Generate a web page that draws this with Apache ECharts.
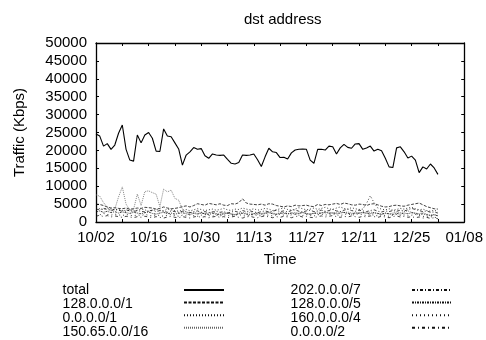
<!DOCTYPE html>
<html>
<head>
<meta charset="utf-8">
<style>
  html, body { margin: 0; padding: 0; background: #fff; }
  #chart { width: 486px; height: 340px; }
</style>
<script src="https://cdn.jsdelivr.net/npm/echarts@6/dist/echarts.min.js"></script>
</head>
<body>
<div id="chart"></div>
<script>
// Daily destination-address traffic (Kbps), one value per day starting 10/02.
var tickLabels = ['10/02', '10/16', '10/30', '11/13', '11/27', '12/11', '12/25', '01/08'];

var total = [
  24600, 24000, 21200, 21900, 20300, 21500, 24800, 27100, 20300, 17300,
  17000, 24300, 22100, 24300, 25000, 23400, 19800, 19700, 26000, 24000,
  23800, 22100, 20400, 15900, 18700, 19600, 20800, 20300, 20500, 18500,
  17800, 19000, 18700, 18600, 18700, 17500, 16400, 16200, 16600, 18700,
  18600, 18700, 19000, 17400, 15500, 18200, 20600, 19600, 19400, 18000,
  18100, 17600, 19300, 20100, 20300, 20400, 20300, 17300, 16400, 20300,
  20300, 20100, 21200, 21000, 19000, 20700, 21700, 20850, 20600, 21800,
  21900, 20300, 20700, 21200, 19800, 20300, 19900, 17800, 15400, 15200,
  20700, 21000, 19600, 17900, 18400, 17300, 13800, 15400, 14800, 16200,
  15100, 13300
];
var net128_1 = [
  5000, 4900, 4600, 4200, 3900, 4000, 3800, 3700, 3900, 3600,
  3700, 3900, 3800, 4100, 4000, 3900, 3600, 3800, 4200, 3900,
  3700, 3800, 4000, 4300, 4500, 4200, 4600, 5100, 4900, 4700,
  5200, 5000, 4800, 5100, 4700, 4600, 5100, 5000, 5400, 6500,
  5300, 5000, 4900, 4800, 5000, 4700, 5100, 5000, 4600, 4400,
  4200, 4500, 4300, 4700, 4500, 4600, 4700, 4400, 4300, 4900,
  4600, 4900, 4800, 5000, 5200, 4900, 5300, 5100, 4800, 4700,
  5000, 4900, 4600, 5000, 5100, 4800, 4400, 4200, 4300, 4600,
  4700, 4500, 4400, 4700, 4900, 5100, 5300, 4800, 4300, 4000,
  3700, 3600
];
var net0_1 = [
  4000, 3700, 3500, 3900, 3600, 3300, 3500, 3200, 3000, 3400,
  3100, 3300, 3600, 3400, 3000, 3200, 3500, 3300, 3100, 3600,
  3400, 3200, 3000, 3300, 3500, 3100, 3400, 3700, 3500, 3200,
  3400, 3600, 3300, 3500, 3800, 3400, 3200, 3600, 3500, 3900,
  3600, 3400, 3700, 3300, 3500, 3800, 3600, 3200, 3400, 3700,
  3900, 3500, 3300, 3600, 4000, 3700, 3400, 3600, 3900, 3500,
  3800, 4100, 3700, 3500, 3900, 4200, 3800, 3600, 4000, 3700,
  3500, 3600, 5200, 7300, 5400, 3900, 3600, 3400, 3700, 3300,
  3500, 3800, 3600, 3900, 4100, 3700, 3400, 3600, 3200, 3000,
  3300, 2900
];
var net150_65 = [
  7600, 7200, 5400, 4200, 3000, 3600, 7000, 9800, 5000, 3300,
  3500, 7800, 4600, 8500, 8700, 8200, 7800, 4300, 9200, 8400,
  8900, 6600, 6100, 3600, 2800, 2500, 2700, 2400, 2600, 2300,
  2500, 2800, 2400, 2200, 2600, 2400, 2300, 2100, 2500, 2700,
  2400, 2600, 2300, 2100, 2400, 2600, 2800, 2500, 2300, 2600,
  2400, 2200, 2500, 2700, 2400, 2600, 2300, 2100, 2400, 2800,
  2600, 2500, 2800, 2400, 2700, 2900, 2600, 2800, 2500, 2300,
  2700, 2500, 2400, 2800, 2600, 2300, 2100, 2400, 2200, 2500,
  2800, 2600, 2900, 3100, 2700, 2500, 2300, 2600, 2200, 1900,
  2100, 1800
];
var net202_7 = [
  3600, 3400, 3800, 3500, 3200, 3600, 3300, 3000, 3400, 3100,
  2900, 3200, 3000, 2800, 3100, 3300, 2900, 3200, 3000, 2700,
  3100, 2900, 2700, 3000, 2800, 2600, 2900, 3100, 2700, 2900,
  2600, 2800, 3000, 2700, 2900, 2500, 2800, 3000, 2700, 3200,
  2900, 3100, 2800, 2600, 2900, 3100, 2800, 3000, 3300, 2900,
  3100, 2800, 3200, 3400, 3000, 2800, 3100, 3300, 2900, 3100,
  3300, 3000, 3200, 3500, 3100, 2900, 3300, 3600, 3200, 3000,
  3300, 3100, 2900, 3200, 3400, 3000, 2800, 3100, 2900, 3200,
  3000, 3300, 3100, 3400, 3800, 3500, 3200, 2900, 3100, 2700,
  2800, 2500
];
var net128_5 = [
  2800, 3100, 2700, 3000, 2600, 2900, 2500, 2800, 2600, 2400,
  2700, 2500, 2300, 2600, 2800, 2400, 2200, 2500, 2700, 2300,
  2500, 2200, 2400, 2600, 2300, 2100, 2400, 2200, 2500, 2300,
  2100, 2400, 2200, 2000, 2300, 2500, 2200, 2000, 2300, 2400,
  2200, 2000, 2300, 2500, 2200, 2400, 2600, 2300, 2100, 2400,
  2600, 2300, 2500, 2200, 2400, 2700, 2400, 2200, 2500, 2300,
  2500, 2800, 2400, 2600, 2300, 2500, 2700, 2400, 2200, 2600,
  2400, 2700, 2500, 2300, 2600, 2400, 2200, 2500, 2300, 2100,
  2400, 2200, 2500, 2300, 2600, 2400, 2100, 2300, 2000, 1800,
  2000, 1700
];
var net160_4 = [
  2300, 2000, 2400, 2100, 1900, 2200, 2000, 1800, 2100, 1900,
  1700, 2000, 1800, 2100, 1900, 1700, 2000, 1800, 1600, 1900,
  2100, 1800, 1600, 1900, 1700, 2000, 1800, 1600, 1900, 2100,
  1800, 1600, 1900, 1700, 2000, 1800, 1700, 1900, 2100, 1800,
  1600, 1900, 2100, 1800, 1700, 2000, 1900, 1700, 2000, 2200,
  1900, 1700, 2000, 2200, 1900, 1800, 2100, 1900, 1700, 2000,
  2200, 1900, 2100, 2300, 2000, 1800, 2100, 2300, 1900, 2100,
  2300, 2000, 1800, 2100, 1900, 1700, 2000, 1800, 1600, 1900,
  2100, 1800, 2000, 1700, 1900, 2100, 1800, 1600, 1400, 1500,
  1300, 1200
];
var net0_2 = [
  1600, 1900, 1500, 1800, 1400, 1700, 1500, 1300, 1600, 1400,
  1200, 1500, 1300, 1600, 1400, 1200, 1500, 1300, 1100, 1400,
  1600, 1300, 1200, 1500, 1300, 1100, 1400, 1600, 1300, 1500,
  1200, 1400, 1600, 1300, 1500, 1200, 1400, 1600, 1300, 1100,
  1400, 1600, 1300, 1200, 1500, 1700, 1400, 1200, 1500, 1300,
  1600, 1400, 1200, 1500, 1700, 1400, 1600, 1300, 1200, 1500,
  1700, 1400, 1600, 1800, 1500, 1300, 1600, 1400, 1700, 1500,
  1300, 1600, 1400, 1700, 1500, 1300, 1600, 1400, 1200, 1500,
  1700, 1400, 1600, 1300, 1500, 1200, 1400, 1100, 1300, 1000,
  1200, 900
];

var FONT = '"Liberation Sans", Arial, Helvetica, sans-serif';

// name, values, dash pattern, colour, width
var lines = [
  ['total',         total,     'solid',      '#000', 1.1],
  ['128.0.0.0/1',   net128_1,  [3, 1.5],     '#111', 0.8],
  ['0.0.0.0/1',     net0_1,    [1, 2],       '#111', 0.8],
  ['150.65.0.0/16', net150_65, [1, 1],       '#666', 0.8],
  ['202.0.0.0/7',   net202_7,  [3, 2, 1, 2], '#111', 0.8],
  ['128.0.0.0/5',   net128_5,  [2, 1, 1, 1], '#111', 0.8],
  ['160.0.0.0/4',   net160_4,  [1, 3],       '#111', 0.8],
  ['0.0.0.0/2',     net0_2,    [3, 3, 1, 3], '#111', 0.8]
];

function toPoints(values) {
  return values.map(function (v, i) { return [i, v]; });
}

var series = lines.map(function (l) {
  return {
    name: l[0],
    type: 'line',
    data: toPoints(l[1]),
    symbol: 'none',
    showSymbol: false,
    color: l[3],
    lineStyle: { color: l[3], width: l[4], type: l[2] },
    silent: true,
    z: l[0] === 'total' ? 3 : 2
  };
});

var axisLine = { show: true, onZero: false, lineStyle: { color: '#000', width: 1.3 } };
var axisTick = { show: true, inside: true, length: 3, lineStyle: { color: '#000', width: 1 } };

function xLabel(v) {
  return v % 14 === 0 ? tickLabels[v / 14] : '';
}
function yLabel(v) {
  return String(v);
}

function legendText(names, left) {
  return {
    data: names, orient: 'vertical', left: left, top: 283, padding: 0,
    itemWidth: 0, itemHeight: 14, itemGap: 0, selectedMode: false,
    itemStyle: { opacity: 0 }, lineStyle: { opacity: 0 },
    textStyle: { fontSize: 14, fontFamily: FONT, color: '#000' }
  };
}
function legendSample(names, left) {
  return {
    data: names, orient: 'vertical', left: left, top: 283, padding: 0,
    itemWidth: 40, itemHeight: 14, itemGap: 0, selectedMode: false,
    itemStyle: { opacity: 0 },
    formatter: function () { return ''; },
    textStyle: { fontSize: 14, fontFamily: FONT }
  };
}

var col1 = ['total', '128.0.0.0/1', '0.0.0.0/1', '150.65.0.0/16'];
var col2 = ['202.0.0.0/7', '128.0.0.0/5', '160.0.0.0/4', '0.0.0.0/2'];

var chart = echarts.init(document.getElementById('chart'), null, { renderer: 'canvas' });
chart.setOption({
  animation: false,
  backgroundColor: '#fff',
  title: {
    text: 'dst address', left: 244, top: 12, padding: 0,
    textStyle: { fontSize: 15, fontWeight: 'normal', fontFamily: FONT, color: '#000' }
  },
  legend: [
    legendText(col1, 52), legendSample(col1, 183),
    legendText(col2, 280), legendSample(col2, 411)
  ],
  grid: { left: 96, right: 18, top: 43, bottom: 118, containLabel: false },
  xAxis: [
    {
      type: 'value', min: 0, max: 98, interval: 7, position: 'bottom',
      axisLine: axisLine, axisTick: axisTick, splitLine: { show: false },
      axisLabel: { formatter: xLabel, margin: 8, fontSize: 15, fontFamily: FONT, color: '#000' },
      name: 'Time', nameLocation: 'middle', nameGap: 30,
      nameTextStyle: { fontSize: 15, fontFamily: FONT, color: '#000' }
    },
    {
      type: 'value', min: 0, max: 98, interval: 7, position: 'top',
      axisLine: axisLine, axisTick: axisTick, splitLine: { show: false },
      axisLabel: { show: false }
    }
  ],
  yAxis: [
    {
      type: 'value', min: 0, max: 50000, interval: 5000, position: 'left',
      axisLine: axisLine, axisTick: axisTick, splitLine: { show: false },
      axisLabel: { formatter: yLabel, margin: 9, fontSize: 15, fontFamily: FONT, color: '#000' },
      name: 'Traffic (Kbps)', nameLocation: 'middle', nameGap: 69,
      nameTextStyle: { fontSize: 15, fontFamily: FONT, color: '#000' }
    },
    {
      type: 'value', min: 0, max: 50000, interval: 5000, position: 'right',
      axisLine: axisLine, axisTick: axisTick, splitLine: { show: false },
      axisLabel: { show: false }
    }
  ],
  series: series
});
</script>
</body>
</html>
